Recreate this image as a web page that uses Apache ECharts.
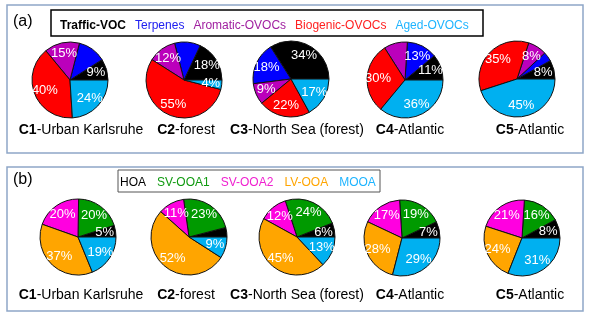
<!DOCTYPE html>
<html><head><meta charset="utf-8">
<script src="https://cdn.jsdelivr.net/npm/echarts@6/dist/echarts.min.js"></script>
<style>html,body{margin:0;padding:0;background:#fff}#c{width:590px;height:319px}</style>
</head><body><div id="c"></div>
<script>
// ---- data ----
const vocCats = ['Traffic-VOC','Terpenes','Aromatic-OVOCs','Biogenic-OVOCs','Aged-OVOCs'];
const oaCats = ['HOA','SV-OOA1','SV-OOA2','LV-OOA','MOOA'];
const siteCodes = ['C1','C2','C3','C4','C5'];
const siteNames = ['-Urban Karlsruhe','-forest','-North Sea (forest)','-Atlantic','-Atlantic'];
const vocC1 = [9,12,15,40,24];
const vocC2 = [18,11,12,55,4];
const vocC3 = [34,18,9,22,17];
const vocC4 = [11,13,10,30,36];
const vocC5 = [8,4,8,35,45];
const oaC1 = [5,20,20,37,19];
const oaC2 = [4,23,11,52,9];
const oaC3 = [6,24,12,45,13];
const oaC4 = [7,19,17,28,29];
const oaC5 = [8,16,21,24,31];
const vocSets = [vocC1,vocC2,vocC3,vocC4,vocC5];
const oaSets = [oaC1,oaC2,oaC3,oaC4,oaC5];

// ---- styles ----
const FONT = 'Arial, "Liberation Sans", sans-serif';
const vocColors = ['#000000','#0000FF','#BB00BB','#FF0000','#00B0F0'];
const vocText = ['#000000','#2020F0','#A020A0','#FF2020','#1EB4FF'];
const oaColors = ['#000000','#009A00','#FF00E0','#FFA500','#00B0F0'];
const oaText = ['#000000','#109A10','#F020D0','#FFA500','#1EB4FF'];
const topCenters = [[70,80],[184,80],[291,79],[405,80],[517,79]];
const botCenters = [[78,237],[189,237],[297,237],[402,238],[522,238]];
const topLabelX = [81,186,297,410,530];
const botLabelX = [81,186,297,410,530];
const R = 38;

const series = [];
function addPie(vals, cats, colors, center){
  const data = vals.map((v,i)=>({name:cats[i], value:v}));
  series.push({type:'pie', center:center, radius:[0,R], startAngle:0, clockwise:false,
    color:colors, data:data, label:{show:false}, labelLine:{show:false},
    itemStyle:{borderColor:'#111', borderWidth:1}, emphasis:{disabled:true}, animation:false});
  series.push({type:'pie', center:center, radius:[10,R], startAngle:0, clockwise:false, silent:true,
    data:data.map(d=>({name:d.name, value:d.value})),
    itemStyle:{color:'rgba(0,0,0,0)', borderWidth:0},
    label:{show:true, position:'inside', formatter:'{c}%', color:'#fff', fontSize:13, fontFamily:FONT},
    labelLine:{show:false}, emphasis:{disabled:true}, animation:false, z:5});
}
vocSets.forEach((v,i)=>addPie(v, vocCats, vocColors, topCenters[i]));
oaSets.forEach((v,i)=>addPie(v, oaCats, oaColors, botCenters[i]));

const graphics = [
  {type:'rect', shape:{x:7,y:5,width:576,height:148}, style:{fill:'none', stroke:'#8EA6C8', lineWidth:1.5}},
  {type:'rect', shape:{x:7,y:167,width:576,height:144}, style:{fill:'none', stroke:'#8EA6C8', lineWidth:1.5}},
  {type:'rect', shape:{x:51,y:10,width:432,height:26}, style:{fill:'none', stroke:'#000', lineWidth:1.5}},
  {type:'rect', shape:{x:118,y:170,width:262,height:22}, style:{fill:'none', stroke:'#555', lineWidth:1}},
  {type:'text', x:13, y:22, style:{text:'(a)', fontSize:16, fontFamily:FONT, fill:'#000', align:'left', verticalAlign:'middle'}},
  {type:'text', x:13, y:180, style:{text:'(b)', fontSize:16, fontFamily:FONT, fill:'#000', align:'left', verticalAlign:'middle'}}
];
function addSiteLabel(i, x, y){
  graphics.push({type:'text', x:x, y:y, style:{text:'{b|'+siteCodes[i]+'}'+siteNames[i],
    rich:{b:{fontWeight:'bold', fontSize:14, fontFamily:FONT, fill:'#000'}},
    fontSize:14, fontFamily:FONT, fill:'#000', align:'center', verticalAlign:'middle'}});
}
siteCodes.forEach((c,i)=>{ addSiteLabel(i, topLabelX[i], 130); addSiteLabel(i, botLabelX[i], 295); });

const option = {
  animation:false,
  legend:[
    {left:50, top:14, icon:'none', itemWidth:0, itemHeight:14, itemGap:4, selectedMode:false,
     data:vocCats.map((n,i)=>({name:n, textStyle:{color:vocText[i], fontWeight: i===0?'bold':'normal'}})),
     textStyle:{fontSize:12, fontFamily:FONT}},
    {left:110, top:171, icon:'none', itemWidth:0, itemHeight:14, itemGap:6, selectedMode:false,
     data:oaCats.map((n,i)=>({name:n, textStyle:{color:oaText[i]}})),
     textStyle:{fontSize:12, fontFamily:FONT}}
  ],
  graphic:graphics,
  series:series
};
const chart = echarts.init(document.getElementById('c'));
chart.setOption(option);
</script></body></html>
